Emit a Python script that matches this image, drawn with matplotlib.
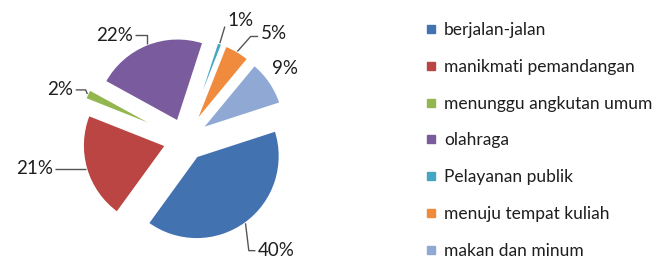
import numpy as np
import matplotlib
matplotlib.use("Agg")
import matplotlib.pyplot as plt
from matplotlib.lines import Line2D

categories = ["berjalan-jalan", "manikmati pemandangan", "menunggu angkutan umum",
              "olahraga", "Pelayanan publik", "menuju tempat kuliah", "makan dan minum"]
values = [40, 21, 2, 22, 1, 5, 9]
pct_labels = ["40%", "21%", "2%", "22%", "1%", "5%", "9%"]
colors = ["#4372B0", "#BA4543", "#93B64E", "#7A5C9E", "#43A6C2", "#F08A3C", "#8FA9D4"]

plt.rcParams['font.family'] = ['Lato', 'DejaVu Sans']

W, H = 657, 261
fig = plt.figure(figsize=(W / 100, H / 100), dpi=100)
fig.patch.set_facecolor("white")

R_px = 83.0
cx, cy = 185.0, 140.0
ax_w = 370.0
ax = fig.add_axes([0, 0, ax_w / W, 1])

explode = [0.24] * len(values)
explode[2] = 0.30
wedges, _ = ax.pie(values, colors=colors, startangle=18, counterclock=False,
                   explode=explode, radius=1.0,
                   wedgeprops=dict(edgecolor="white", linewidth=1.5))
ax.set_xlim(-cx / R_px, (ax_w - cx) / R_px)
ax.set_ylim((cy - H) / R_px, cy / R_px)
ax.set_aspect("equal")
ax.axis("off")

# label layout: text offset from leader end (R units), alignment, elbow kind
layout = [
    ((0.15, -0.33), "left", "vh"),
    ((-0.40, 0.0), "right", "straight"),
    ((-0.17, 0.05), "right", "h12"),
    ((-0.17, 0.11), "right", "hv"),
    ((0.09, 0.27), "left", "straight1"),
    ((0.28, 0.22), "left", "h5"),
    ((0.18, 0.17), "center", None),
]
line_kw = dict(color="#555555", lw=1.0, solid_capstyle="butt")
for w, lab, e, ((dx, dy), ha, kind) in zip(wedges, pct_labels, explode, layout):
    mid = np.deg2rad((w.theta1 + w.theta2) / 2)
    ex, ey = (1 + e) * np.cos(mid), (1 + e) * np.sin(mid)
    tx, ty = ex + dx, ey + dy
    ax.text(tx, ty, lab, ha=ha, va="center", fontsize=13.5, color="#1e1e1e")
    if kind is None:
        continue
    if kind == "vh":
        xs, ys = [tx - 0.03, ex + 0.04, ex], [ty, ty, ey]
    elif kind == "hv":
        xs, ys = [tx + 0.03, ex, ex], [ty, ty, ey]
    elif kind == "straight":
        xs, ys = [tx + 0.03, ex], [ty, ey]
    elif kind == "h12":
        xs, ys = [tx + 0.03, tx + 0.15, ex], [ty, ty, ey]
    elif kind == "straight1":
        xs, ys = [tx - 0.03, ex], [ty - 0.07, ey]
    else:  # h5
        xs, ys = [tx - 0.03, tx - 0.12, ex], [ty - 0.04, ty - 0.04, ey]
    ax.add_line(Line2D(xs, ys, **line_kw))

handles = [Line2D([0], [0], marker="s", linestyle="none", markersize=6,
                  markerfacecolor=c, markeredgecolor=c) for c in colors]
fig.legend(handles, categories, loc="upper left", bbox_to_anchor=(426 / W, 1 - 22 / H),
           frameon=False, fontsize=12.5, labelspacing=1.2, handlelength=0.6,
           handletextpad=0.45, borderaxespad=0, borderpad=0, labelcolor="#1e1e1e")

fig.savefig("out.png", dpi=100, facecolor="white")
